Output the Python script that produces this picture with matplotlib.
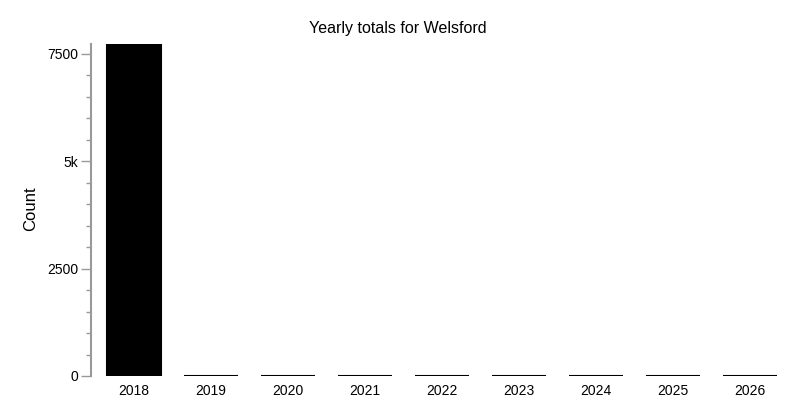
import matplotlib
matplotlib.use("Agg")
import matplotlib.pyplot as plt
from matplotlib.ticker import FixedLocator, MultipleLocator, FuncFormatter

plt.rcParams["font.family"] = ["Liberation Sans", "DejaVu Sans"]

# 数据
years = ["2018", "2019", "2020", "2021", "2022", "2023", "2024", "2025", "2026"]
totals = [7730, 0, 0, 0, 0, 0, 0, 0, 0]
y_ticks = [0, 2500, 5000, 7500]
y_tick_labels = ["0", "2500", "5k", "7500"]

fig = plt.figure(figsize=(7.96, 4.18), dpi=100)
ax = fig.add_axes([0.1143, 0.1005, 0.996 - 0.1143, 0.8947 - 0.1005])

x = range(len(years))
ax.bar(x, totals, width=0.7, color="black", edgecolor="black", linewidth=1.5)

ax.set_xlim(-0.56, len(years) - 1 + 0.56)
ax.set_ylim(0, max(totals))
ax.set_xticks(list(x))
ax.set_xticklabels(years, fontsize=10)
ax.tick_params(axis="x", length=0, pad=6)

ax.yaxis.set_major_locator(FixedLocator(y_ticks))
ax.yaxis.set_major_formatter(FuncFormatter(lambda v, p: y_tick_labels[y_ticks.index(int(v))] if int(v) in y_ticks else ""))
ax.yaxis.set_minor_locator(MultipleLocator(500))
ax.tick_params(axis="y", which="major", length=7.2, width=1, color="#999999", labelsize=10, pad=2)
ax.tick_params(axis="y", which="minor", length=3.6, width=1, color="#999999")

for side in ["top", "right", "bottom"]:
    ax.spines[side].set_visible(False)
ax.spines["left"].set_color("#999999")
ax.spines["left"].set_linewidth(1.5)

ax.set_ylabel("Count", fontsize=12)
ax.yaxis.set_label_coords(38 / 796, 0.5, transform=fig.transFigure)
fig.text(0.5, 1 - 28 / 418, "Yearly totals for Welsford", fontsize=11.5, ha="center", va="center")

fig.savefig("out.png", dpi=100)
